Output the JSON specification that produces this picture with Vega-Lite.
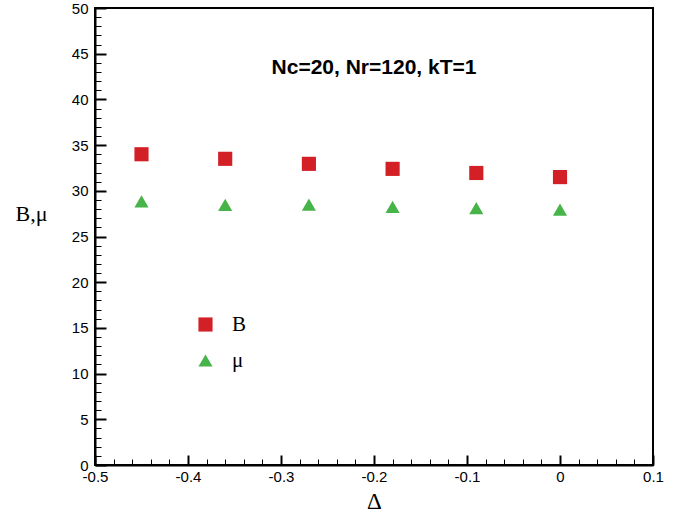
{
  "$schema": "https://vega.github.io/schema/vega-lite/v6.json",
  "width": 558,
  "height": 457,
  "autosize": {"type": "none"},
  "padding": {"left": 95, "top": 8, "right": 32, "bottom": 50},
  "background": "white",
  "config": {
    "view": {"stroke": "black", "strokeWidth": 2},
    "axis": {
      "domainColor": "black", "domainWidth": 2, "tickColor": "black", "grid": false,
      "labelFont": "Liberation Sans", "labelFontSize": 15, "labelColor": "black",
      "titleFont": "Liberation Serif", "titleColor": "black", "titleFontWeight": "normal"
    }
  },
  "datasets": {
    "pts": [
      {"delta": -0.45, "value": 34.0, "series": "B"},
      {"delta": -0.36, "value": 33.5, "series": "B"},
      {"delta": -0.27, "value": 32.95, "series": "B"},
      {"delta": -0.18, "value": 32.4, "series": "B"},
      {"delta": -0.09, "value": 31.95, "series": "B"},
      {"delta": 0.0, "value": 31.5, "series": "B"},
      {"delta": -0.45, "value": 28.85, "series": "μ"},
      {"delta": -0.36, "value": 28.45, "series": "μ"},
      {"delta": -0.27, "value": 28.5, "series": "μ"},
      {"delta": -0.18, "value": 28.25, "series": "μ"},
      {"delta": -0.09, "value": 28.1, "series": "μ"},
      {"delta": 0.0, "value": 27.95, "series": "μ"}
    ],
    "label": [{"delta": -0.2, "value": 43.4, "text": "Nc=20, Nr=120, kT=1"}]
  },
  "layer": [
    {
      "data": {"name": "pts"},
      "mark": {"type": "point", "filled": true, "opacity": 1},
      "encoding": {
        "x": {
          "field": "delta", "type": "quantitative",
          "scale": {"domain": [-0.5, 0.1], "nice": false, "zero": false},
          "axis": {
            "title": "Δ", "titleFontSize": 23, "titlePadding": 2,
            "values": [-0.5, -0.48, -0.46, -0.44, -0.42, -0.4, -0.38, -0.36, -0.34, -0.32, -0.3, -0.28, -0.26, -0.24, -0.22, -0.2, -0.18, -0.16, -0.14, -0.12, -0.1, -0.08, -0.06, -0.04, -0.02, 0, 0.02, 0.04, 0.06, 0.08, 0.1],
            "tickCount": 100,
            "format": ".1~f",
            "labelExpr": "abs(round(datum.value*100)) % 10 == 0 ? replace(datum.label, '−', '-') : ''",
            "labelOverlap": false,
            "tickSize": {"condition": {"test": "abs(round(datum.value*100)) % 10 == 0", "value": -10}, "value": -6},
            "tickWidth": {"condition": {"test": "abs(round(datum.value*100)) % 10 == 0", "value": 2}, "value": 1},
            "labelPadding": 14, "labelFlush": false
          }
        },
        "y": {
          "field": "value", "type": "quantitative",
          "scale": {"domain": [0, 50], "nice": false},
          "axis": {
            "title": "B,μ", "titleFontSize": 22, "titleAngle": 0, "titleX": -80, "titleY": 212, "titleAlign": "left", "titleBaseline": "alphabetic",
            "values": [0,1,2,3,4,5,6,7,8,9,10,11,12,13,14,15,16,17,18,19,20,21,22,23,24,25,26,27,28,29,30,31,32,33,34,35,36,37,38,39,40,41,42,43,44,45,46,47,48,49,50],
            "tickCount": 100,
            "format": "d",
            "labelExpr": "datum.value % 5 == 0 ? datum.label : ''",
            "labelOverlap": false,
            "tickSize": {"condition": {"test": "datum.value % 5 == 0", "value": -11}, "value": -6},
            "tickWidth": {"condition": {"test": "datum.value % 5 == 0", "value": 2}, "value": 1},
            "labelPadding": 18
          }
        },
        "color": {
          "field": "series", "type": "nominal",
          "scale": {"domain": ["B", "μ"], "range": ["#d32027", "#46b448"]},
          "legend": {
            "title": null, "orient": "none", "legendX": 100, "legendY": 306,
            "labelFont": "Liberation Serif", "labelFontSize": 21, "labelColor": "black",
            "symbolSize": 200, "rowPadding": 14, "labelOffset": 16, "symbolStrokeWidth": 0
          }
        },
        "shape": {
          "field": "series", "type": "nominal",
          "scale": {"domain": ["B", "μ"], "range": ["square", "triangle-up"]},
          "legend": null
        },
        "size": {"value": 200}
      }
    },
    {
      "data": {"name": "label"},
      "mark": {"type": "text", "font": "Liberation Sans", "fontWeight": "bold", "fontSize": 21, "color": "black"},
      "encoding": {
        "x": {"field": "delta", "type": "quantitative"},
        "y": {"field": "value", "type": "quantitative"},
        "text": {"field": "text"}
      }
    }
  ]
}
